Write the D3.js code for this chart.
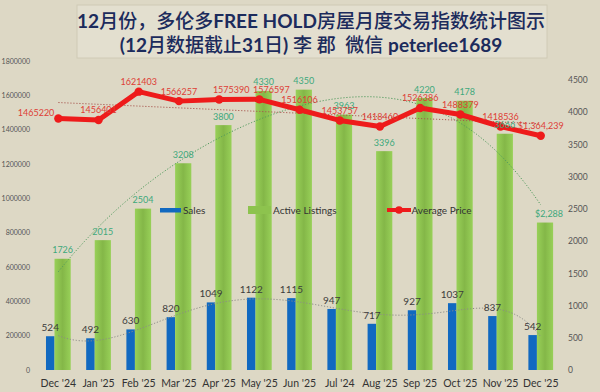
<!DOCTYPE html>
<html><head><meta charset="utf-8">
<script src="https://cdn.jsdelivr.net/npm/d3@7"></script>
<style>
html,body{margin:0;padding:0;background:#ddd8c5;}
svg{display:block;font-family:Lato,"Noto Sans CJK SC",sans-serif;}
</style></head>
<body><svg id="c" width="600" height="392"></svg>
<script>
const categories = ["Dec '24","Jan '25","Feb '25","Mar '25","Apr '25","May '25","Jun '25","Jul '24","Aug '25","Sep '25","Oct '25","Nov '25","Dec '25"];
const sales = [524,492,630,820,1049,1122,1115,947,717,927,1037,837,542];
const listings = [1726,2015,2504,3208,3800,4330,4350,3963,3396,4220,4178,3666,2288];
const prices = [1465220,1456401,1621403,1566257,1575390,1576597,1516106,1453757,1418460,1526386,1488379,1418536,1364239];
const leftTicks = [0,200000,400000,600000,800000,1000000,1200000,1400000,1600000,1800000];
const rightTicks = [0,500,1000,1500,2000,2500,3000,3500,4000,4500];
const seriesNames = ["Sales","Active Listings","Average Price"];
const titleLine1 = [["12",1],["月份，多伦多",0],["FREE HOLD",1],["房屋月度交易指数统计图示",0]];
const titleLine2 = [["(12",1],["月数据截止",0],["31",1],["日",0],[") ",1],["李 郡  微信 ",0],["peterlee1689",1]];

const svg = d3.select("#c");
const W = 600, H = 392;
svg.append("rect").attr("width",W).attr("height",H).attr("fill","#ddd8c5");

// title box
svg.append("rect").attr("x",77).attr("y",5).attr("width",470).attr("height",53)
  .attr("fill","#e3dfcf").attr("stroke","#d0cab6").attr("stroke-width",1);
function titleLine(parts,y){
  const t = svg.append("text").attr("x",311).attr("y",y).attr("text-anchor","middle")
    .attr("fill","#1c2b5c").attr("font-size",19).style("white-space","pre");
  parts.forEach(([s,b])=>t.append("tspan").text(s).attr("font-weight",b?700:500));
}
titleLine(titleLine1,28);
titleLine(titleLine2,52);

const x = d3.scaleBand().domain(categories).range([38.25,560.85]).padding(0);
const step = x.step();
const cx = c => x(c)+x.bandwidth()/2;
const yL = d3.scaleLinear().domain([0,1800000]).range([370,61]);
const yR = d3.scaleLinear().domain([0,4500]).range([370,80]);

// axes
const gl = svg.append("g").attr("transform","translate(30,0)")
  .call(d3.axisLeft(yL).tickValues(leftTicks).tickSize(0).tickPadding(0).tickFormat(d3.format("d")));
gl.select(".domain").remove();
gl.selectAll("text").attr("font-size",7).attr("fill","#555").attr("font-family","Lato");
const gr = svg.append("g").attr("transform","translate(566,0)")
  .call(d3.axisRight(yR).tickValues(rightTicks).tickSize(0).tickPadding(2).tickFormat(d3.format("d")));
gr.select(".domain").remove();
gr.selectAll("text").attr("font-size",8.5).attr("fill","#555").attr("font-family","Lato");
const gb = svg.append("g").attr("transform","translate(0,370)")
  .call(d3.axisBottom(x).tickSize(0).tickPadding(10));
gb.select(".domain").remove();
gb.selectAll("text").attr("font-size",10.5).attr("fill","#333").attr("font-family","Lato");

// gradient for green bars
const defs = svg.append("defs");
const gg = defs.append("linearGradient").attr("id","gbar").attr("x1","0").attr("x2","1").attr("y1","0").attr("y2","0");
gg.append("stop").attr("offset","0").attr("stop-color","#98d058");
gg.append("stop").attr("offset","0.5").attr("stop-color","#84b748");
gg.append("stop").attr("offset","1").attr("stop-color","#98d058");

const bw = step*0.212, gw = step*0.403;
const gx0 = -(bw+gw)/2;
// sales bars
svg.append("g").selectAll("rect").data(sales).join("rect")
  .attr("x",(d,i)=>cx(categories[i])+gx0).attr("width",bw)
  .attr("y",d=>yR(d)).attr("height",d=>yR(0)-yR(d)).attr("fill","#1169c0");
// listings bars
svg.append("g").selectAll("rect").data(listings).join("rect")
  .attr("x",(d,i)=>cx(categories[i])+gx0+bw).attr("width",gw)
  .attr("y",d=>yR(d)).attr("height",d=>yR(0)-yR(d)).attr("fill","url(#gbar)");

// polynomial least-squares trend
function polyfit(ys, order){
  const n = ys.length, m = order+1;
  const c0 = (n-1)/2;
  const t = i => (i-c0)/c0;
  const A = Array.from({length:m},()=>Array(m+1).fill(0));
  for(let i=0;i<n;i++){
    const ti=t(i);
    for(let r=0;r<m;r++){
      for(let c=0;c<m;c++) A[r][c]+=Math.pow(ti,r+c);
      A[r][m]+=ys[i]*Math.pow(ti,r);
    }
  }
  for(let k=0;k<m;k++){
    let p=k; for(let r=k+1;r<m;r++) if(Math.abs(A[r][k])>Math.abs(A[p][k])) p=r;
    [A[k],A[p]]=[A[p],A[k]];
    for(let r=0;r<m;r++){ if(r===k) continue; const f=A[r][k]/A[k][k];
      for(let c=k;c<=m;c++) A[r][c]-=f*A[k][c]; }
  }
  const coef = A.map((row,k)=>row[m]/row[k]);
  return i => { const ti=t(i); let s=0; for(let k=0;k<m;k++) s+=coef[k]*Math.pow(ti,k); return s; };
}
const x0 = cx(categories[0]);
const xi = i => x0 + i*step;
function trend(ys, order, yScale, color){
  const f = polyfit(ys, order);
  const pts = d3.range(0, ys.length-1+1e-9, 0.05).map(i=>[xi(i), yScale(f(i))]);
  svg.append("path").attr("d", d3.line()(pts)).attr("fill","none")
    .attr("stroke",color).attr("stroke-width",1).attr("stroke-dasharray","1.2,1.8");
}
trend(sales, 6, yR, "#8c8c88");
trend(listings, 4, yR, "#4f9a5c");
trend(prices, 1, yL, "#a8564e");

// price line
const line = d3.line().x((d,i)=>cx(categories[i])).y(d=>yL(d));
svg.append("path").datum(prices).attr("d",line).attr("fill","none")
  .attr("stroke","#ee1b1b").attr("stroke-width",5).attr("stroke-linejoin","round");
svg.append("g").selectAll("circle").data(prices).join("circle")
  .attr("cx",(d,i)=>cx(categories[i])).attr("cy",d=>yL(d)).attr("r",4.2).attr("fill","#ee1b1b");

// labels
const fmtComma = d3.format(",");
svg.append("g").selectAll("text").data(sales).join("text")
  .attr("x",(d,i)=>cx(categories[i])+gx0+bw/2).attr("y",d=>yR(d)-5)
  .attr("text-anchor","middle").attr("font-size",10).attr("fill","#3c3c3c").text(d=>d);
svg.append("g").selectAll("text").data(listings).join("text")
  .attr("x",(d,i)=>cx(categories[i])+gx0+bw+gw/2+(i===listings.length-1?4:0)).attr("y",d=>yR(d)-5.5)
  .attr("text-anchor","middle").attr("font-size",9).attr("fill","#3ea87c")
  .text((d,i)=>i===listings.length-1?"$"+fmtComma(d):d);
svg.append("g").selectAll("text").data(prices).join("text")
  .attr("x",(d,i)=>i===0?cx(categories[i])-4:cx(categories[i])+((i===4||i===5)?12:0))
  .attr("y",(d,i)=>i===0?yL(d)-2.5:yL(d)-6.5)
  .attr("text-anchor",(d,i)=>i===0?"end":"middle").attr("font-size",9).attr("fill","#dd3e36")
  .text((d,i)=>i===prices.length-1?"$"+fmtComma(d):d);

// legend
const lg = svg.append("g").attr("font-size",10).attr("fill","#333");
lg.append("rect").attr("x",160).attr("y",208).attr("width",21).attr("height",4.5).attr("fill","#1169c0");
lg.append("text").attr("x",183).attr("y",213.5).text(seriesNames[0]);
lg.append("rect").attr("x",248).attr("y",206).attr("width",23).attr("height",8).attr("fill","#8dc34e");
lg.append("text").attr("x",273).attr("y",213.5).text(seriesNames[1]);
lg.append("line").attr("x1",387).attr("x2",411).attr("y1",210).attr("y2",210).attr("stroke","#ee1b1b").attr("stroke-width",4);
lg.append("circle").attr("cx",399).attr("cy",210).attr("r",3.8).attr("fill","#ee1b1b");
lg.append("text").attr("x",411.5).attr("y",213.5).text(seriesNames[2]);
</script></body></html>
